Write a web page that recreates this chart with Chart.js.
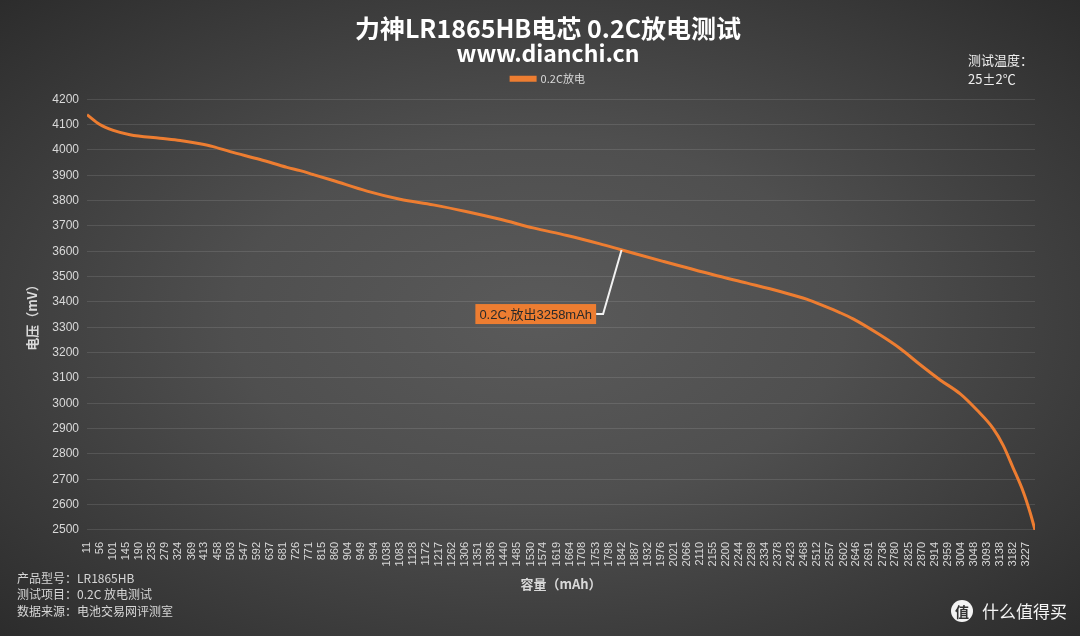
<!DOCTYPE html>
<html>
<head>
<meta charset="utf-8">
<script src="https://cdn.jsdelivr.net/npm/chart.js@4/dist/chart.umd.min.js"></script>
<style>
  html, body { margin: 0; padding: 0; }
  #wrap {
    width: 1080px; height: 636px; position: relative;
    background: radial-gradient(ellipse farthest-corner at 50% 50%, #5a5a5a 0%, #4f4f4f 40%, #2c2c2c 100%);
  }
</style>
</head>
<body>
<div id="wrap"><canvas id="chart" width="1080" height="636"></canvas></div>
<script>
// capacity (mAh) and voltage (mV)
const capacity = [11, 55, 101, 158, 261, 330, 398, 443, 501, 604, 696, 741, 785, 854, 970, 1083, 1197, 1313, 1426, 1539, 1655, 1768, 1837, 1984, 2156, 2272, 2385, 2478, 2522, 2591, 2635, 2728, 2796, 2865, 2933, 3002, 3060, 3115, 3149, 3183, 3218, 3242, 3258];
const voltage = [4139, 4100, 4077, 4060, 4046, 4037, 4024, 4013, 3993, 3962, 3931, 3918, 3903, 3879, 3837, 3805, 3783, 3756, 3726, 3692, 3662, 3629, 3607, 3560, 3507, 3474, 3441, 3410, 3390, 3357, 3333, 3269, 3216, 3152, 3092, 3037, 2972, 2900, 2834, 2745, 2650, 2566, 2500];

// tick labels on the capacity axis
const xTicks = [11, 56, 101, 145, 190, 235, 279, 324, 369, 413, 458, 503, 547, 592, 637, 681, 726, 771, 815, 860, 904, 949, 994, 1038, 1083, 1128, 1172, 1217, 1262, 1306, 1351, 1396, 1440, 1485, 1530, 1574, 1619, 1664, 1708, 1753, 1798, 1842, 1887, 1932, 1976, 2021, 2066, 2110, 2155, 2200, 2244, 2289, 2334, 2378, 2423, 2468, 2512, 2557, 2602, 2646, 2691, 2736, 2780, 2825, 2870, 2914, 2959, 3004, 3048, 3093, 3138, 3182, 3227];

const notes = ["产品型号：LR1865HB", "测试项目：0.2C 放电测试", "数据来源：电池交易网评测室"];
const tempNote = ["测试温度：", "25±2℃"];
const calloutText = "0.2C,放出3258mAh";
const calloutPoint = [1842, 3605];
const calloutLabel = [1765, 3352];

const orange = "#ED7D31";
const tickColor = "#d9d9d9";
const cjk = "'Noto Sans CJK SC', 'Liberation Sans', sans-serif";
const latin = "'Liberation Sans', 'Noto Sans CJK SC', sans-serif";

const extras = {
  id: "extras",
  afterDatasetsDraw(chart) {
    const { ctx, scales: { x, y } } = chart;
    ctx.save();

    // callout with leader line
    const px = x.getPixelForValue(calloutPoint[0]);
    const py = y.getPixelForValue(calloutPoint[1]);
    const lx = x.getPixelForValue(calloutLabel[0]);
    const ly = y.getPixelForValue(calloutLabel[1]);
    ctx.strokeStyle = "#f2f2f2";
    ctx.lineWidth = 2;
    ctx.beginPath();
    ctx.moveTo(lx - 3, ly);
    ctx.lineTo(lx + 4, ly);
    ctx.lineTo(px, py);
    ctx.stroke();
    ctx.font = "13px " + latin;
    const w = ctx.measureText(calloutText).width + 8;
    ctx.fillStyle = orange;
    ctx.fillRect(lx - 3 - w, ly - 10, w, 20);
    ctx.fillStyle = "#2a2a2a";
    ctx.textBaseline = "middle";
    ctx.textAlign = "left";
    ctx.fillText(calloutText, lx - 3 - w + 4, ly + 1);

    // test conditions, top right
    ctx.fillStyle = "#eeeeee";
    ctx.font = "13px " + cjk;
    tempNote.forEach((t, i) => ctx.fillText(t, 968, 60 + i * 19));

    // product notes, bottom left
    ctx.fillStyle = "#d6d6d6";
    ctx.font = "12px " + cjk;
    notes.forEach((t, i) => ctx.fillText(t, 17, 578 + i * 16.5));

    // watermark
    ctx.fillStyle = "#f4f4f4";
    ctx.beginPath();
    ctx.arc(962, 611, 11, 0, Math.PI * 2);
    ctx.fill();
    ctx.fillStyle = "#333";
    ctx.font = "bold 14px " + cjk;
    ctx.textAlign = "center";
    ctx.fillText("值", 962, 612);
    ctx.fillStyle = "#f4f4f4";
    ctx.font = "17px " + cjk;
    ctx.textAlign = "left";
    ctx.fillText("什么值得买", 982, 612);
    ctx.restore();
  }
};

new Chart(document.getElementById("chart"), {
  type: "line",
  data: {
    datasets: [{
      label: "0.2C放电",
      data: capacity.map((c, i) => ({ x: c, y: voltage[i] })),
      borderColor: orange,
      backgroundColor: orange,
      borderWidth: 3,
      pointRadius: 0,
      cubicInterpolationMode: "monotone",
    }],
  },
  options: {
    responsive: false,
    animation: false,
    layout: { padding: { top: 0, left: 16, right: 0, bottom: 40 } },
    plugins: {
      title: {
        display: true,
        text: "力神LR1865HB电芯 0.2C放电测试",
        color: "#ffffff",
        font: { family: cjk, size: 25, weight: "bold", lineHeight: 1.1 },
        padding: { top: 15, bottom: 0 },
      },
      subtitle: {
        display: true,
        text: "www.dianchi.cn",
        color: "#ffffff",
        font: { family: cjk, size: 23, weight: "bold", lineHeight: 0.9 },
        padding: { top: 0, bottom: 0 },
      },
      legend: {
        labels: {
          color: tickColor,
          font: { family: cjk, size: 11 },
          boxWidth: 24,
          boxHeight: 3,
          padding: 10,
        },
      },
      tooltip: { enabled: false },
    },
    scales: {
      x: {
        type: "linear",
        min: 11,
        max: 3258,
        afterBuildTicks: (scale) => { scale.ticks = xTicks.map((v) => ({ value: v })); },
        ticks: {
          color: tickColor,
          font: { family: latin, size: 11 },
          minRotation: 90,
          maxRotation: 90,
          autoSkip: false,
          padding: 4,
          callback: (v) => String(v),
        },
        grid: { display: false },
        border: { display: false },
        title: {
          display: true,
          text: "容量（mAh）",
          color: tickColor,
          font: { family: cjk, size: 13, weight: "bold" },
          padding: { top: 6 },
        },
      },
      // empty top axis, only keeps a small gap between legend and plot
      xTop: {
        type: "linear",
        position: "top",
        afterFit: (scale) => { scale.height = 5; },
        ticks: { display: false },
        grid: { display: false },
        border: { display: false },
      },
      y: {
        min: 2500,
        max: 4200,
        afterFit: (scale) => { scale.width = 71; },
        ticks: {
          stepSize: 100,
          color: tickColor,
          font: { family: latin, size: 12 },
          padding: 8,
          callback: (v) => String(v),
        },
        grid: { color: "rgba(255,255,255,0.11)", drawTicks: false },
        border: { display: false },
        title: {
          display: true,
          text: "电压（mV）",
          color: tickColor,
          font: { family: cjk, size: 13, weight: "bold" },
          padding: { top: 8, bottom: 4 },
        },
      },
      // empty right-hand axis that only reserves space, so the title stays centred like the original
      yRight: {
        position: "right",
        afterFit: (scale) => { scale.width = 45; },
        ticks: { display: false },
        grid: { display: false },
        border: { display: false },
      },
    },
  },
  plugins: [extras],
});
</script>
</body>
</html>
